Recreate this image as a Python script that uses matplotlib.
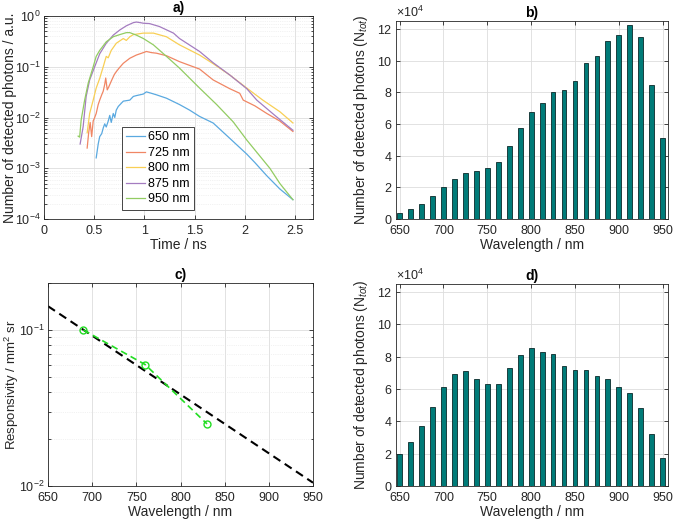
import numpy as np
import matplotlib
matplotlib.use("Agg")
import matplotlib.pyplot as plt
from matplotlib.ticker import ScalarFormatter, LogLocator, NullFormatter

plt.rcParams['font.family'] = ['Liberation Sans', 'DejaVu Sans']
plt.rcParams['mathtext.fontset'] = 'custom'
plt.rcParams['mathtext.rm'] = 'Liberation Sans'
plt.rcParams['mathtext.it'] = 'Liberation Sans:italic'

# a) time-resolved curves (read off the picture)
legend_labels = ["650 nm", "725 nm", "800 nm", "875 nm", "950 nm"]

t650 = [0.52, 0.54, 0.555, 0.575, 0.59, 0.605, 0.62, 0.64, 0.655, 0.67, 0.69, 0.705, 0.72, 0.74,
        0.79, 0.855, 0.89, 0.92, 0.99, 1.02, 1.07, 1.12, 1.22, 1.35, 1.45, 1.55, 1.685, 1.85,
        2.02, 2.1, 2.22, 2.35, 2.48]
v650 = [1.6e-3, 3.0e-3, 4.2e-3, 4.8e-3, 6.2e-3, 7.5e-3, 6.5e-3, 8.5e-3, 1.1e-2, 8.0e-3, 1.2e-2,
        1.0e-2, 1.4e-2, 1.65e-2, 2.1e-2, 2.2e-2, 2.6e-2, 2.7e-2, 2.9e-2, 3.2e-2, 3.0e-2, 2.8e-2,
        2.4e-2, 1.8e-2, 1.4e-2, 1.05e-2, 7.8e-3, 3.9e-3, 1.9e-3, 1.3e-3, 7.1e-4, 3.9e-4, 2.4e-4]

t725 = [0.43, 0.445, 0.46, 0.475, 0.49, 0.505, 0.52, 0.54, 0.555, 0.575, 0.59, 0.605, 0.615,
        0.63, 0.645, 0.67, 0.7, 0.72, 0.75, 0.79, 0.855, 0.92, 0.99, 1.02, 1.07, 1.12, 1.22,
        1.35, 1.55, 1.685, 1.85, 1.95, 1.985, 2.1, 2.22, 2.35, 2.48]
v725 = [2.5e-3, 5e-3, 8e-3, 4.2e-3, 8.5e-3, 1.0e-2, 1.2e-2, 1.8e-2, 2.2e-2, 2.8e-2, 3.3e-2,
        4.5e-2, 6.0e-2, 3.5e-2, 4.0e-2, 5.2e-2, 7.0e-2, 8.0e-2, 9.5e-2, 0.117, 0.147, 0.17, 0.19,
        0.2, 0.19, 0.185, 0.165, 0.126, 0.09, 0.055, 0.037, 0.03, 0.022, 0.017, 0.012, 0.0085,
        0.0053]

t800 = [0.43, 0.455, 0.49, 0.52, 0.555, 0.59, 0.62, 0.64, 0.67, 0.72, 0.79, 0.82, 0.855, 0.89,
        0.99, 1.09, 1.22, 1.35, 1.55, 1.685, 1.85, 2.02, 2.18, 2.35, 2.48]
v800 = [5e-3, 1.2e-2, 2.2e-2, 3.8e-2, 5.9e-2, 0.1, 0.16, 0.15, 0.21, 0.29, 0.36, 0.33, 0.39,
        0.43, 0.46, 0.46, 0.39, 0.27, 0.17, 0.115, 0.069, 0.038, 0.022, 0.013, 0.0078]

t875 = [0.36, 0.39, 0.42, 0.455, 0.505, 0.555, 0.62, 0.69, 0.755, 0.82, 0.89, 0.92, 0.96, 0.99,
        1.05, 1.15, 1.29, 1.35, 1.55, 1.685, 1.85, 2.02, 2.12, 2.3, 2.48]
v875 = [3e-3, 6.6e-3, 2.6e-2, 5.5e-2, 0.1, 0.18, 0.29, 0.42, 0.53, 0.64, 0.74, 0.76, 0.74, 0.72,
        0.71, 0.62, 0.46, 0.36, 0.2, 0.12, 0.069, 0.037, 0.022, 0.011, 0.0056]

t950 = [0.34, 0.355, 0.37, 0.405, 0.44, 0.49, 0.52, 0.555, 0.62, 0.69, 0.755, 0.82, 0.855, 0.92,
        0.99, 1.09, 1.22, 1.35, 1.55, 1.72, 1.885, 2.02, 2.25, 2.35, 2.48]
v950 = [4.3e-3, 4.1e-3, 8.9e-3, 2.2e-2, 4.7e-2, 0.1, 0.16, 0.21, 0.31, 0.39, 0.43, 0.47, 0.47,
        0.42, 0.36, 0.27, 0.16, 0.094, 0.038, 0.018, 8.2e-3, 3.6e-3, 1e-3, 5e-4, 2.4e-4]

# b) and d) total detected photons per wavelength
wl_bars = [650, 662.5, 675, 687.5, 700, 712.5, 725, 737.5, 750, 762.5, 775, 787.5, 800,
           812.5, 825, 837.5, 850, 862.5, 875, 887.5, 900, 912.5, 925, 937.5, 950]
n_tot_b = [0.4e4, 0.65e4, 0.95e4, 1.45e4, 2.0e4, 2.55e4, 2.9e4, 3.0e4, 3.2e4, 3.6e4, 4.6e4,
           5.75e4, 6.75e4, 7.35e4, 8.0e4, 8.15e4, 8.7e4, 9.85e4, 10.3e4, 11.25e4, 11.6e4,
           12.25e4, 11.5e4, 8.45e4, 5.1e4]
n_tot_d = [2.0e4, 2.7e4, 3.7e4, 4.9e4, 6.15e4, 6.9e4, 7.1e4, 6.6e4, 6.3e4, 6.3e4, 7.3e4,
           8.1e4, 8.55e4, 8.3e4, 8.15e4, 7.45e4, 7.15e4, 7.2e4, 6.8e4, 6.6e4, 6.15e4, 5.75e4,
           4.85e4, 3.2e4, 1.75e4]

# c) responsivity
wl_fit = [650, 950]
resp_fit = [0.142, 0.0105]
wl_meas = [690, 760, 830]
resp_meas = [0.1, 0.06, 0.025]

line_colors = ['#5aa9e0', '#f08664', '#f8cf55', '#a47cc0', '#92cc62']
bar_color = '#007b78'
grid_kw = dict(color='#dddddd', linewidth=0.6)
minor_kw = dict(color='#e6e6e6', linewidth=0.5, linestyle=':')

W, H = 674, 525
fig = plt.figure(figsize=(W / 100, H / 100), dpi=100)


def px_axes(left, top, right, bottom):
    return fig.add_axes([left / W, 1 - bottom / H, (right - left) / W, (bottom - top) / H])


def style(ax):
    ax.tick_params(direction='in', top=True, right=True, labelsize=9, colors='#262626',
                   length=3, width=0.6, pad=2.5)
    ax.tick_params(axis='x', pad=4)
    ax.tick_params(which='minor', direction='in', top=True, right=True, length=1.8, width=0.5)
    for s in ax.spines.values():
        s.set_color('#262626')
        s.set_linewidth(0.6)
    ax.set_axisbelow(True)


# ---- a)
ax = px_axes(44, 16, 313, 219)
style(ax)
for t, v, c, lab in zip([t650, t725, t800, t875, t950], [v650, v725, v800, v875, v950],
                        line_colors, legend_labels):
    ax.plot(t, v, color=c, lw=0.9, label=lab)
ax.set_yscale('log')
ax.set_ylim(1e-4, 1)
ax.set_xlim(0, 2.68)
ax.set_xticks([0, 0.5, 1, 1.5, 2, 2.5])
ax.set_xticklabels(["0", "0.5", "1", "1.5", "2", "2.5"])
ax.yaxis.set_minor_locator(LogLocator(base=10, subs=np.arange(2, 10)))
ax.yaxis.set_minor_formatter(NullFormatter())
ax.grid(True, which='major', **grid_kw)
ax.grid(True, which='minor', axis='y', **minor_kw)
ax.set_xlabel("Time / ns", fontsize=10, color='#262626', labelpad=1)
ax.set_ylabel("Number of detected photons / a.u.", fontsize=10, color='#262626')
ax.yaxis.set_label_coords(-0.102, 0.5)
ax.set_title("a)", fontsize=10, fontweight='bold', pad=3)
leg = ax.legend(loc='lower left', bbox_to_anchor=(0.29, 0.045), fontsize=9, fancybox=False,
                framealpha=1, edgecolor='#262626', handlelength=1.5, borderpad=0.35,
                labelspacing=0.28, handletextpad=0.2, borderaxespad=0)
leg.get_frame().set_linewidth(0.6)


def bar_panel(ax, values, title):
    style(ax)
    ax.bar(wl_bars, values, width=5.5, color=bar_color, edgecolor='#0a2a2a', linewidth=0.6)
    ax.set_xlim(646, 956)
    ax.set_ylim(0, 12.5e4)
    ax.set_xticks([650, 700, 750, 800, 850, 900, 950])
    ax.set_yticks(np.arange(0, 12.1e4, 2e4))
    fmt = ScalarFormatter(useMathText=True)
    fmt.set_powerlimits((4, 4))
    ax.yaxis.set_major_formatter(fmt)
    ax.yaxis.get_offset_text().set_fontsize(9)
    ax.yaxis.get_offset_text().set_color('#262626')
    ax.grid(True, **grid_kw)
    ax.set_xlabel("Wavelength / nm", fontsize=10, color='#262626', labelpad=1)
    ax.set_ylabel(r"Number of detected photons (N$_{tot}$)", fontsize=10, color='#262626')
    ax.yaxis.set_label_coords(-0.096, 0.5)
    ax.set_title(title, fontsize=10, fontweight='bold', pad=3)


# ---- b)
bar_panel(px_axes(396, 21, 668, 219), n_tot_b, "b)")

# ---- c)
ax = px_axes(48, 283, 313, 486)
style(ax)
ax.plot(wl_fit, resp_fit, color='black', lw=1.5, ls=(0, (4, 2.5)))
ax.plot(wl_meas, resp_meas, color='#22dd22', lw=1.2, ls=(0, (4, 2.5)), marker='o',
        markersize=5, markerfacecolor='none', markeredgewidth=1.0)
ax.set_yscale('log')
ax.set_ylim(1e-2, 0.2)
ax.set_xlim(650, 950)
ax.set_xticks([650, 700, 750, 800, 850, 900, 950])
ax.yaxis.set_minor_locator(LogLocator(base=10, subs=np.arange(2, 10)))
ax.yaxis.set_minor_formatter(NullFormatter())
ax.grid(True, which='major', **grid_kw)
ax.grid(True, which='minor', axis='y', **minor_kw)
ax.set_xlabel("Wavelength / nm", fontsize=10, color='#262626', labelpad=1)
ax.set_ylabel(r"Responsivity / mm$^2$ sr", fontsize=9.5, color='#262626')
ax.yaxis.set_label_coords(-0.102, 0.5)
ax.set_title("c)", fontsize=10, fontweight='bold', pad=3)

# ---- d)
bar_panel(px_axes(396, 284, 668, 486), n_tot_d, "d)")

fig.savefig("out.png", dpi=100)
